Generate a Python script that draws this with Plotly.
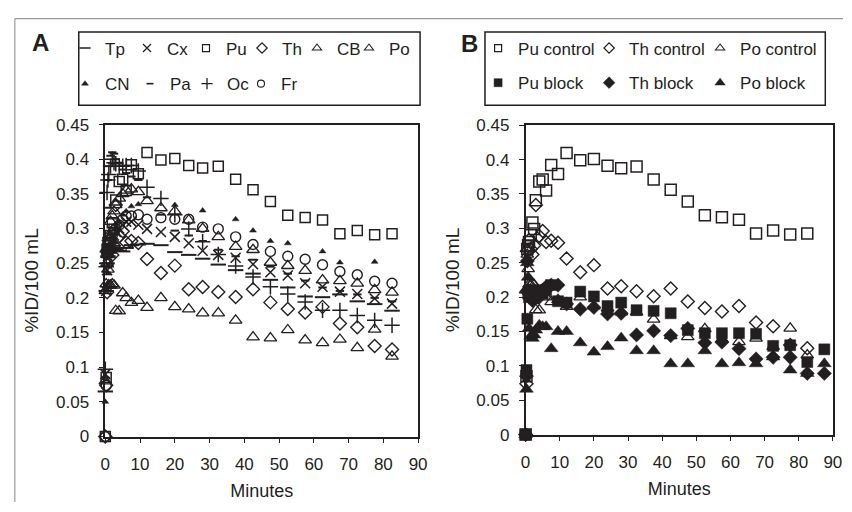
import plotly.graph_objects as go

W, H = 852, 512

# ---------------- data ----------------
t_early = [0, 0.25, 0.5, 0.75, 1, 1.5, 2, 2.5, 3, 4, 5, 6, 7.5, 9.5]
t_late = [12, 16, 20, 24, 28, 32.5, 37.5, 42.5, 47.5, 52.5, 57.5, 62.5, 67.5, 72.5, 77.5, 82.5]
t_last = [87.5]
minutes = t_early + t_late
minutes_block = t_early + t_late + t_last

# Panel A regions (%ID/100 mL)
tp = [0.065, 0.21, 0.25, 0.26, 0.265, 0.27, 0.275, 0.272, 0.27, 0.268, 0.267, 0.272, 0.276, 0.277,
      0.278, 0.276, 0.266, 0.262, 0.2565, 0.248, 0.240, 0.235, 0.226, 0.215, 0.202, 0.201, 0.205, 0.195, 0.191, 0.1815]
cx = [0.09, 0.21, 0.24, 0.26, 0.27, 0.28, 0.285, 0.29, 0.295, 0.30, 0.305, 0.31, 0.31, 0.3056,
      0.2995, 0.295, 0.288, 0.2787, 0.268, 0.262, 0.258, 0.2486, 0.237, 0.2324, 0.221, 0.216, 0.209, 0.2056, 0.199, 0.1917]
pu = [0.0, 0.085, 0.27, 0.275, 0.28, 0.29, 0.3085, 0.299, 0.341, 0.368, 0.371, 0.355, 0.392, 0.379,
      0.4097, 0.399, 0.401, 0.391, 0.3875, 0.390, 0.371, 0.356, 0.339, 0.319, 0.316, 0.3125, 0.2926, 0.297, 0.291, 0.2926]
th = [0.0, 0.074, 0.208, 0.269, 0.283, 0.27, 0.262, 0.275, 0.334, 0.289, 0.296, 0.28, 0.282, 0.279,
      0.256, 0.236, 0.2465, 0.2125, 0.2158, 0.2085, 0.2013, 0.2125, 0.1935, 0.184, 0.179, 0.187, 0.163, 0.1575, 0.1305, 0.1255]
cb = [0.08, 0.22, 0.25, 0.27, 0.29, 0.31, 0.318, 0.325, 0.334, 0.3435, 0.35, 0.355, 0.357, 0.353,
      0.340, 0.3296, 0.325, 0.312, 0.300, 0.288, 0.274, 0.2694, 0.251, 0.2463, 0.2394, 0.2255, 0.2245, 0.221, 0.2115, 0.208]
po = [0.21, 0.27, 0.262, 0.241, 0.2185, 0.218, 0.22, 0.218, 0.1815, 0.181, 0.207, 0.20, 0.193, 0.196,
      0.186, 0.200, 0.187, 0.1838, 0.178, 0.178, 0.1676, 0.1435, 0.142, 0.1537, 0.139, 0.135, 0.14, 0.128, 0.1546, 0.1157]
cn = [0.05, 0.21, 0.22, 0.235, 0.245, 0.25, 0.26, 0.28, 0.30, 0.31, 0.32, 0.325, 0.332, 0.335,
      None, None, 0.334, None, 0.326, None, 0.3134, 0.297, 0.282, 0.2787, None, 0.267, 0.251, None, 0.252, None]
pa = [0.085, 0.25, 0.33, 0.37, 0.39, 0.405, 0.41, 0.408, 0.40, 0.395, 0.385, 0.38, 0.375, 0.37,
      0.345, 0.32, 0.297, 0.29, 0.282, 0.2694, 0.26, 0.255, 0.245, 0.235, 0.225, 0.215, 0.21, 0.205, 0.20, 0.195]
oc = [0.097, 0.245, 0.352, 0.37, 0.378, 0.39, 0.40, 0.395, 0.3935, 0.39, 0.39, 0.391, 0.391, 0.383,
      0.3597, 0.3435, 0.32, 0.2995, 0.281, 0.2625, 0.246, 0.23, 0.216, 0.2056, 0.194, 0.182, 0.182, 0.1745, 0.1676, 0.1606]
fr = [0.0, 0.0736, 0.2625, 0.27, 0.2718, 0.28, 0.29, 0.297, 0.30, 0.305, 0.3134, 0.318, 0.318, 0.320,
      0.3134, 0.3157, 0.3134, 0.3134, 0.302, 0.2995, 0.288, 0.277, 0.267, 0.260, 0.2556, 0.2477, 0.238, 0.2333, 0.224, 0.221]

# Panel B blocking study (controls are the Pu, Th, Po series above)
pu_block = [0.0, 0.094, 0.1685, 0.205, 0.20, 0.21, 0.205, 0.198, 0.21, 0.207, 0.205, 0.21, 0.2175, 0.194,
            0.192, 0.208, 0.201, 0.187, 0.192, 0.181, 0.180, 0.1765, 0.152, 0.1475, 0.1475, 0.1475, 0.1466, 0.129, 0.130, 0.1055, 0.124]
th_block = [0.0, 0.085, 0.2525, 0.21, 0.205, 0.20, 0.195, 0.20, 0.205, 0.20, 0.21, 0.215, 0.2175, 0.2175,
            0.19, 0.1825, 0.185, 0.1755, 0.1765, 0.145, 0.151, 0.144, 0.1545, 0.1335, 0.1345, 0.125, 0.110, 0.1125, 0.1125, 0.089, 0.089]
po_block = [0.0, 0.066, 0.25, 0.229, 0.1545, 0.143, 0.14, 0.145, 0.152, 0.159, 0.157, 0.157, 0.125, 0.15,
            0.15, 0.1335, 0.120, 0.128, 0.1405, 0.122, 0.122, 0.103, 0.103, 0.122, 0.103, 0.1045, 0.103, 0.113, 0.094, 0.089, 0.103]

x_ticks = [0, 10, 20, 30, 40, 50, 60, 70, 80, 90]
y_ticks = [0, 0.05, 0.1, 0.15, 0.2, 0.25, 0.3, 0.35, 0.4, 0.45]

# ---------------- styles ----------------
INK = "#231f20"
FONT = "Liberation Sans, Arial, sans-serif"


def mk(symbol, size, lw=1.4):
    return dict(symbol=symbol, size=size, color=INK, line=dict(color=INK, width=lw))


series_a = [
    ("Tp", tp, mk("line-ew", 11, 2), mk("line-ew", 8, 1.6), "legend", 17),
    ("Cx", cx, mk("x-thin", 10, 1.5), mk("x-thin", 8, 1.3), "legend", 14),
    ("Pu", pu, mk("square-open", 10, 1.5), mk("square-open", 7, 1.2), "legend", 11),
    ("Th", th, mk("diamond-open", 10, 1.4), mk("diamond-open", 8, 1.2), "legend", 10),
    ("CB", cb, mk("triangle-up-open", 11, 1.3), mk("triangle-up-open", 8, 1.1), "legend", 7),
    ("Po", po, mk("triangle-up-open", 11, 1.3), mk("triangle-up-open", 8, 1.1), "legend", 30),
    ("CN", cn, mk("triangle-up", 6, 0.5), mk("triangle-up", 6, 0.5), "legend2", 20),
    ("Pa", pa, mk("line-ew", 6, 2), mk("line-ew", 5, 1.6), "legend2", 12),
    ("Oc", oc, mk("cross-thin", 11, 1.5), mk("cross-thin", 8, 1.3), "legend2", 9),
    ("Fr", fr, mk("circle-open", 10, 1.4), mk("circle-open", 7, 1.1), "legend2", 30),
]

series_b = [
    ("Pu control", minutes, pu, mk("square-open", 11, 1.5), mk("square-open", 7, 1.2), "legend3", 66),
    ("Th control", minutes, th, mk("diamond-open", 10, 1.4), mk("diamond-open", 8, 1.2), "legend3", 66),
    ("Po control", minutes, po, mk("triangle-up-open", 11, 1.3), mk("triangle-up-open", 8, 1.1), "legend3", 95),
    ("Pu block", minutes_block, pu_block, mk("square", 11, 0.5), mk("square", 8, 0.5), "legend4", 66),
    ("Th block", minutes_block, th_block, mk("diamond", 11, 0.5), mk("diamond", 9, 0.5), "legend4", 66),
    ("Po block", minutes_block, po_block, mk("triangle-up", 12, 0.5), mk("triangle-up", 9, 0.5), "legend4", 95),
]

fig = go.Figure()

for name, vals, m, lm, leg, lw in series_a:
    fig.add_trace(go.Scatter(x=minutes, y=vals, mode="markers", marker=m, name=name,
                             showlegend=False, cliponaxis=False, xaxis="x", yaxis="y"))
    fig.add_trace(go.Scatter(x=[None], y=[None], mode="markers", marker=lm, name=name,
                             legend=leg, legendwidth=lw, showlegend=True, xaxis="x", yaxis="y"))

for name, xs, vals, m, lm, leg, lw in series_b:
    fig.add_trace(go.Scatter(x=xs, y=vals, mode="markers", marker=m, name=name,
                             showlegend=False, cliponaxis=False, xaxis="x2", yaxis="y2"))
    fig.add_trace(go.Scatter(x=[None], y=[None], mode="markers", marker=lm, name=name,
                             legend=leg, legendwidth=lw, showlegend=True, xaxis="x2", yaxis="y2"))


def px_x(p):
    return p / W


def px_y(p):
    return 1 - p / H


axis_common = dict(
    showgrid=False, zeroline=False, showline=True, linecolor=INK, linewidth=1.5,
    mirror=True, ticks="outside", ticklen=5, tickwidth=1.2, tickcolor=INK,
    tickfont=dict(family=FONT, size=17, color=INK),
)
xt = dict(ticklabelstandoff=6, title=dict(text="Minutes", font=dict(size=18), standoff=12))
yt = dict(ticklabelstandoff=6, title=dict(text="%ID/100 mL", font=dict(size=19), standoff=12))

fig.update_layout(
    width=W, height=H,
    margin=dict(l=0, r=0, t=0, b=0),
    paper_bgcolor="white", plot_bgcolor="white",
    font=dict(family=FONT, size=17, color=INK),
    xaxis=dict(domain=[px_x(102), px_x(420)], range=[0, 90], tickvals=x_ticks, anchor="y",
               **xt, **axis_common),
    yaxis=dict(domain=[px_y(444), px_y(120)], range=[0, 0.45], tickvals=y_ticks, anchor="x",
               **yt, **axis_common),
    xaxis2=dict(domain=[px_x(529.3), px_x(841.7)], range=[0, 90], tickvals=x_ticks, anchor="y2",
                **xt, **axis_common),
    yaxis2=dict(domain=[px_y(442), px_y(120.7)], range=[0, 0.45], tickvals=y_ticks, anchor="x2",
                **yt, **axis_common),
)

leg_common = dict(orientation="h", xanchor="left", yanchor="middle", bgcolor="rgba(0,0,0,0)",
                  borderwidth=0, font=dict(family=FONT, size=17, color=INK), itemclick=False,
                  itemdoubleclick=False, tracegroupgap=0)
fig.update_layout(
    legend=dict(x=px_x(61), y=px_y(41), **leg_common),
    legend2=dict(x=px_x(61), y=px_y(78), **leg_common),
    legend3=dict(x=px_x(481), y=px_y(41), **leg_common),
    legend4=dict(x=px_x(481), y=px_y(77), **leg_common),
)

shapes = [
    dict(type="rect", xref="paper", yref="paper", x0=px_x(75), x1=px_x(422), y0=px_y(100), y1=px_y(24),
         line=dict(color=INK, width=1.5)),
    dict(type="rect", xref="paper", yref="paper", x0=px_x(488), x1=px_x(834), y0=px_y(100), y1=px_y(24),
         line=dict(color=INK, width=1.5)),
    dict(type="line", xref="paper", yref="paper", x0=px_x(10), x1=1, y0=px_y(10), y1=px_y(10),
         line=dict(color="#9a9a9a", width=1.2)),
    dict(type="line", xref="paper", yref="paper", x0=px_x(10), x1=px_x(10), y0=px_y(10), y1=0,
         line=dict(color="#9a9a9a", width=1.2)),
]
fig.update_layout(shapes=shapes)

fig.add_annotation(x=px_x(36.5), y=px_y(35), xref="paper", yref="paper", text="<b>A</b>",
                   xanchor="center", yanchor="middle",
                   showarrow=False, font=dict(family=FONT, size=24, color=INK))
fig.add_annotation(x=px_x(472), y=px_y(36), xref="paper", yref="paper", text="<b>B</b>",
                   xanchor="center", yanchor="middle",
                   showarrow=False, font=dict(family=FONT, size=24, color=INK))

fig.write_html("out.html")
